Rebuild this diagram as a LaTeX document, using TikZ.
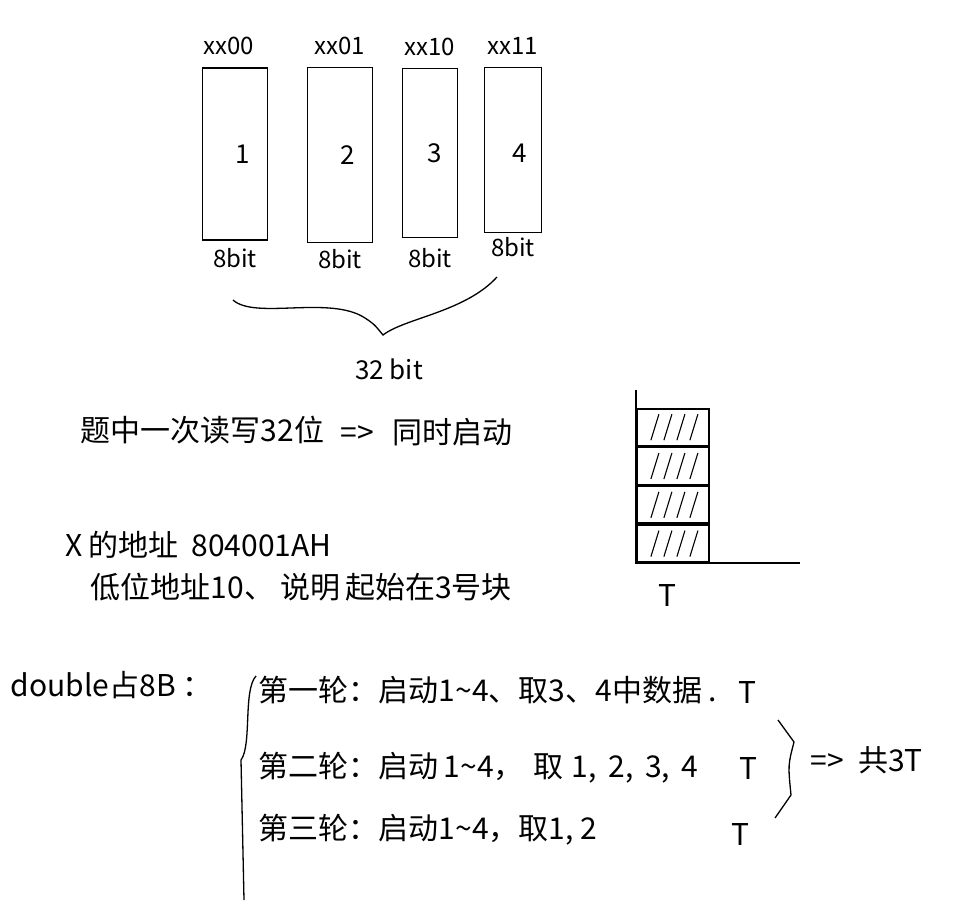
\documentclass[tikz,border=0pt]{standalone}
\usepackage{fontspec}
\setmainfont{Noto Sans CJK SC}
\usetikzlibrary{positioning}

\begin{document}
\begin{tikzpicture}[x=1pt,y=-1pt,line width=1.8pt,node distance=5pt,
    cell/.style={draw,minimum width=62pt,minimum height=172pt,inner sep=0pt},
    addr/.style={font=\fontsize{24}{28}\selectfont,inner sep=1pt},
    small/.style={font=\fontsize{26}{30}\selectfont,inner sep=1pt},
    txt/.style={anchor=west,inner sep=0pt,font=\fontsize{30}{34}\selectfont},
    slot/.style={draw,minimum width=72pt,minimum height=37pt,inner sep=0pt}]
    \useasboundingbox (0,0) rectangle (960,906);
    % four 8-bit blocks
    \node[cell,minimum width=65pt] (b1) at (235,154) {};
    \node[cell,minimum width=65pt,minimum height=175pt] (b2) at (340,155) {};
    \node[cell,minimum width=55pt,minimum height=169pt] (b3) at (430,153) {};
    \node[cell,minimum width=57pt,minimum height=165pt] (b4) at (513,150) {};
    \node[addr,above=10pt of b1,xshift=-6pt] (a1) {xx00};
    \node[addr,above=10pt of b2] (a2) {xx01};
    \node[addr,above=10pt of b3] (a3) {xx10};
    \node[addr,above=10pt of b4] (a4) {xx11};
    \node[small] (n1) at ([xshift=8pt]b1.center) {1};
    \node[small] (n2) at ([xshift=8pt]b2.center) {2};
    \node[small] (n3) at ([xshift=5pt]b3.center) {3};
    \node[small] (n4) at ([xshift=7pt,yshift=-3pt]b4.center) {4};
    \node[addr,below=6pt of b1] (w1) {8bit};
    \node[addr,below=4pt of b2] (w2) {8bit};
    \node[addr,below=8pt of b3] (w3) {8bit};
    \node[addr,below=2pt of b4] (w4) {8bit};
    % brace
    \coordinate (bl) at (233,300);
    \coordinate (bt) at (383,335);
    \coordinate (br) at (497,277);
    \draw[line width=1.3pt] (bl) .. controls (255,320) and (330,295) .. (365,318)
        .. controls (374,324) .. (bt) .. controls (405,318) and (465,312) .. (br);
    \node[small,below=22pt of bt,xshift=6pt] (sum) {32 bit};
    % notes
    \node[txt] (q1) at (80,430) {题中一次读写32位};
    \node[txt] (q2) at (340,432) {=>\hspace{18pt}同时启动};
    \node[txt] (x1) at (65,545) {X\,的地址 \ 804001AH};
    \node[txt] (x2) at (90,587) {低位地址10、\hspace{6pt}说明\,起始在3号块};
    % timing
    \coordinate (o) at (636,563);
    \coordinate (top) at (636,390);
    \coordinate (end) at (800,563);
    \draw (top) -- (o) -- (end);
    \node[slot,anchor=south west] (s1) at (o) {};
    \node[slot,above=0pt of s1] (s2) {};
    \node[slot,above=0pt of s2] (s3) {};
    \node[slot,above=0pt of s3] (s4) {};
    \foreach \s in {s1,s2,s3,s4}
      \foreach \d in {-22,-9,4,17}
        \draw[line width=1.1pt] ([xshift=\d pt,yshift=-13pt]\s.center) -- ++(8,-26);
    \node[txt,anchor=center] (t0) at (667,595) {T};
    % double
    \node[txt] (d0) at (10,685) {double占8B ：};
    \node[txt] (r1) at (258,690) {第一轮：启动1\textasciitilde4、取3、4中数据 .};
    \node[txt] (r2) at (258,768) {第二轮：启动\,1\textasciitilde4，\hspace{10pt}取\hspace{8pt}1,\, 2,\, 3,\, 4};
    \node[txt] (r3) at (258,830) {第三轮：启动1\textasciitilde4，取1, 2};
    \node[txt,anchor=center] (t1) at (747,692) {T};
    \node[txt,anchor=center] (t2) at (748,768) {T};
    \node[txt,anchor=center] (t3) at (740,834) {T};
    \draw[line width=1.3pt] (256,676) .. controls (243,690) and (252,745) .. (241,760)
        -- (244,900);
    \draw[line width=1.3pt] (778,720) -- (794,742) .. controls (788,765) .. (791,795)
        -- (775,818);
    \node[txt] (tot) at (810,760) {=>\hspace{14pt}共3T};
\end{tikzpicture}
\end{document}
